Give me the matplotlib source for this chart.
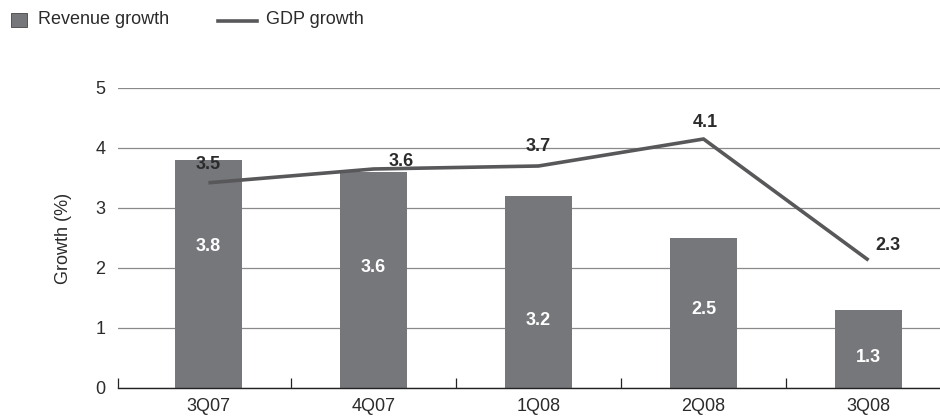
import matplotlib.pyplot as plt
import numpy as np
from matplotlib.lines import Line2D
from matplotlib.patches import Rectangle

plt.rcParams["font.family"] = ["Liberation Sans", "DejaVu Sans"]

QUARTERS = ["3Q07", "4Q07", "1Q08", "2Q08", "3Q08"]
REVENUE_GROWTH = [3.8, 3.6, 3.2, 2.5, 1.3]
GDP_GROWTH = [3.42, 3.65, 3.70, 4.15, 2.13]
GDP_LABELS = ["3.5", "3.6", "3.7", "4.1", "2.3"]
REVENUE_LABELS = ["3.8", "3.6", "3.2", "2.5", "1.3"]

BAR_COLOR = "#76777b"
LINE_COLOR = "#58585a"
TEXT_COLOR = "#2b2b2b"
FS = 13

# where the value labels sit (data units), as in the original artwork
rev_label_y = [2.35, 2.0, 1.13, 1.3, 0.5]
gdp_label_xy = [(0.0, 3.72), (1.17, 3.77), (2.0, 4.03), (3.01, 4.42), (4.12, 2.38)]

W, H = 940, 418
fig = plt.figure(figsize=(W / 100, H / 100), dpi=100)
ax = fig.add_axes([118 / W, 1 - 388 / H, 822 / W, 300 / H])

x = np.arange(len(QUARTERS))
ax.bar(x, REVENUE_GROWTH, width=0.41, color=BAR_COLOR, zorder=2)
ax.plot(x, GDP_GROWTH, color=LINE_COLOR, lw=2.6, zorder=3, solid_capstyle="butt")

for xi, yl, txt in zip(x, rev_label_y, REVENUE_LABELS):
    ax.text(xi, yl, txt, color="white", fontsize=FS, fontweight="bold",
            ha="center", va="center", zorder=4)
for (lx, ly), txt in zip(gdp_label_xy, GDP_LABELS):
    ax.text(lx, ly, txt, color=TEXT_COLOR, fontsize=FS, fontweight="bold",
            ha="center", va="center", zorder=4)

left = -0.548
ax.set_xlim(left, 4.433)
ax.set_ylim(0, 5)
ax.set_yticks([0, 1, 2, 3, 4, 5])
ax.set_xticks(x)
ax.set_xticklabels(QUARTERS)
ax.set_xticks([left, 0.5, 1.5, 2.5, 3.5], minor=True)
ax.tick_params(axis="x", which="major", length=0, pad=7, labelsize=FS, labelcolor=TEXT_COLOR)
ax.tick_params(axis="x", which="minor", direction="in", length=7, width=0.9, color="#222222")
ax.tick_params(axis="y", length=0, pad=9, labelsize=FS, labelcolor=TEXT_COLOR)
ax.grid(axis="y", color="#8a8a8a", lw=0.9, zorder=0)
ax.set_axisbelow(True)
for side in ["top", "right", "left"]:
    ax.spines[side].set_visible(False)
ax.spines["bottom"].set_color("#222222")
ax.spines["bottom"].set_linewidth(1.0)
ax.spines["bottom"].set_zorder(5)

ax.set_ylabel("Growth (%)", fontsize=FS, color=TEXT_COLOR, labelpad=17)

# legend drawn in figure pixels
fig.patches.append(Rectangle((11 / W, 1 - 27 / H), 16 / W, 14 / H, transform=fig.transFigure,
                             facecolor=BAR_COLOR, edgecolor="#444444", lw=0.6))
fig.text(38 / W, 1 - 20 / H, "Revenue growth", fontsize=FS, color=TEXT_COLOR, va="center")
fig.lines.append(Line2D([218 / W, 257 / W], [1 - 21 / H, 1 - 21 / H], transform=fig.transFigure,
                        color=LINE_COLOR, lw=2.6))
fig.text(266 / W, 1 - 20 / H, "GDP growth", fontsize=FS, color=TEXT_COLOR, va="center")

fig.savefig("out.png", dpi=100)
